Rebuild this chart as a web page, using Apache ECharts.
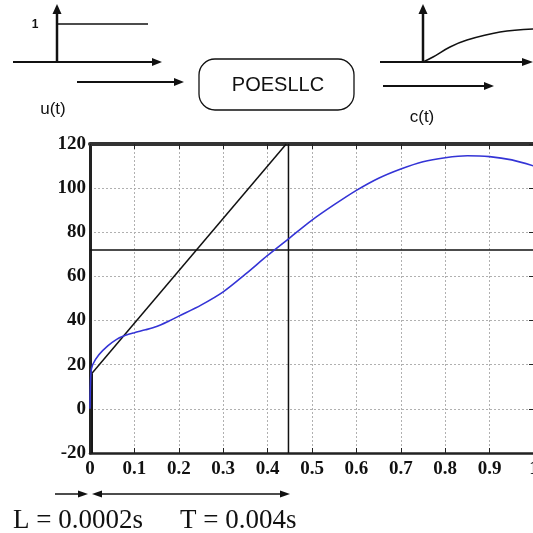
<!DOCTYPE html>
<html>
<head>
<meta charset="utf-8">
<script src="https://cdn.jsdelivr.net/npm/echarts@6/dist/echarts.min.js"></script>
<style>
  html, body { margin: 0; padding: 0; background: #fff; }
  #main { width: 533px; height: 533px; }
</style>
</head>
<body>
<div id="main"></div>
<script>
// step response c(t)
const tValues = [0, 0.002, 0.006, 0.02, 0.04, 0.06, 0.08, 0.1, 0.125, 0.15, 0.175, 0.2, 0.25, 0.3, 0.35, 0.4, 0.45, 0.5, 0.55, 0.6, 0.65, 0.7, 0.75, 0.8, 0.85, 0.9, 0.95, 1.0];
const cValues = [0, 16, 20, 24.5, 28.5, 31.5, 33.3, 34.5, 35.8, 37.3, 39.5, 42, 47, 53, 61, 69.5, 77.5, 85.5, 92.5, 99, 104.5, 108.7, 112, 113.8, 114.7, 114.3, 112.8, 110];
// construction lines
const tangentLine = [[0.004, 16], [0.442, 120]];
const lineT = [[0.447, -20], [0.447, 120]];
const lineL = [[0.005, -20], [0.005, 16]];
const line72 = [[0, 72], [1, 72]];
const xTicks = { min: 0, max: 1, interval: 0.1 };
const yTicks = { min: -20, max: 120, interval: 20 };

const curve = tValues.map((t, i) => [t, cValues[i]]);

const chart = echarts.init(document.getElementById('main'));

const labelFont = {
  fontFamily: 'Liberation Serif',
  fontWeight: 'bold',
  fontSize: 19,
  color: '#111'
};
const grid = { type: [2, 2], color: '#b0b0b0', width: 1 };

const line = (x1, y1, x2, y2, w) => ({
  type: 'line', shape: { x1, y1, x2, y2 },
  style: { stroke: '#111', lineWidth: w || 2 }, silent: true
});
const head = (pts) => ({
  type: 'polygon', shape: { points: pts },
  style: { fill: '#111' }, silent: true
});
const txt = (x, y, text, size, family, align) => ({
  type: 'text', x, y,
  style: { text, fontSize: size, fontFamily: family || 'Liberation Sans', fill: '#111', align: align || 'center', verticalAlign: 'middle' }
});

const blackSeries = (data) => ({
  type: 'line', data, symbol: 'none', silent: true,
  lineStyle: { color: '#111', width: 1.5 }, z: 3
});

option = {
  backgroundColor: '#fff',
  animation: false,
  grid: { left: 90, right: -1, top: 144, bottom: 80, outerBoundsMode: 'none' },
  xAxis: [
    {
      type: 'value', ...xTicks, position: 'bottom',
      axisLine: { onZero: false, lineStyle: { color: '#222', width: 2.5 } },
      axisTick: { inside: true, length: 5, lineStyle: { color: '#222' } },
      axisLabel: { ...labelFont, margin: 7, formatter: v => (v === 0 ? '0' : String(+v.toFixed(1))) },
      splitLine: { show: true, lineStyle: grid }
    },
    {
      type: 'value', ...xTicks, position: 'top',
      axisLine: { onZero: false, lineStyle: { color: '#333', width: 4 } },
      axisTick: { inside: true, length: 5, lineStyle: { color: '#222' } },
      axisLabel: { show: false },
      splitLine: { show: false }
    }
  ],
  yAxis: [
    {
      type: 'value', ...yTicks, position: 'left',
      axisLine: { show: true, onZero: false, lineStyle: { color: '#222', width: 3 } },
      axisTick: { show: false },
      axisLabel: { ...labelFont, margin: 4 },
      splitLine: { show: true, lineStyle: grid }
    },
    {
      type: 'value', ...yTicks, position: 'right',
      axisLine: { show: false, onZero: false },
      axisTick: { inside: true, length: 5, lineStyle: { color: '#222' } },
      axisLabel: { show: false },
      splitLine: { show: false }
    }
  ],
  series: [
    {
      type: 'line', data: curve, symbol: 'none', smooth: 0.3,
      lineStyle: { color: '#3434d6', width: 1.6 }, z: 4
    },
    blackSeries(tangentLine),
    blackSeries(lineT),
    blackSeries(lineL),
    blackSeries(line72)
  ],
  graphic: [
    // input sketch u(t)
    line(57, 62, 57, 12, 2.5), head([[57, 4], [52.5, 14], [61.5, 14]]),
    line(13, 62, 154, 62, 2), head([[162, 62], [152, 58], [152, 66]]),
    line(57, 24, 148, 24, 1.5),
    { type: 'text', x: 35, y: 25, style: { text: '1', fontSize: 12, fontWeight: 'bold', fontFamily: 'Liberation Sans', fill: '#111', align: 'center', verticalAlign: 'middle' } },
    line(77, 82, 176, 82, 2), head([[184, 82], [174, 78], [174, 86]]),
    txt(53, 109, 'u(t)', 17),
    // block
    { type: 'rect', shape: { x: 199, y: 59, width: 155, height: 51, r: 16 }, style: { fill: 'none', stroke: '#111', lineWidth: 1.3 } },
    txt(278, 85, 'POESLLC', 20),
    // output sketch c(t)
    line(423, 62, 423, 12, 2.5), head([[423, 4], [418.5, 14], [427.5, 14]]),
    line(380, 62, 524, 62, 2), head([[533, 62], [522, 58], [522, 66]]),
    { type: 'polyline', shape: { points: [[423, 62], [433, 57], [450, 47], [467, 40], [500, 32], [533, 29]], smooth: 0.4 }, style: { stroke: '#111', lineWidth: 1.5, fill: 'none' } },
    line(383, 86, 485, 86, 2), head([[494, 86], [484, 82], [484, 90]]),
    txt(422, 117, 'c(t)', 17),
    // L and T annotations
    line(55, 494, 80, 494, 1.5), head([[88, 494], [78, 490.5], [78, 497.5]]),
    line(100, 494, 282, 494, 1.5),
    head([[92, 494], [102, 490.5], [102, 497.5]]),
    head([[290, 494], [280, 490.5], [280, 497.5]]),
    txt(13, 521, 'L = 0.0002s', 27, 'Liberation Serif', 'left'),
    txt(180, 521, 'T = 0.004s', 27, 'Liberation Serif', 'left')
  ]
};

chart.setOption(option);
</script>
</body>
</html>
